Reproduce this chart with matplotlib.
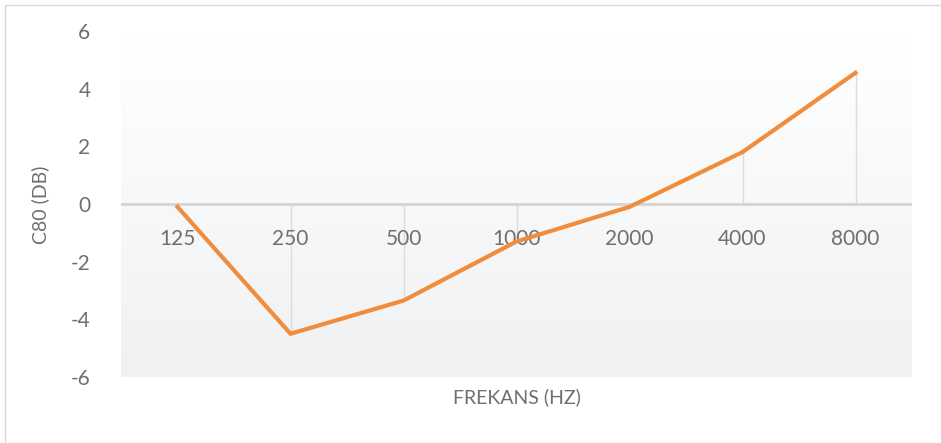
import matplotlib
matplotlib.use("Agg")
import matplotlib.pyplot as plt
import numpy as np
from matplotlib.patches import Rectangle

categories = ["125", "250", "500", "1000", "2000", "4000", "8000"]
c80_values = [-0.1, -4.5, -3.35, -1.3, -0.1, 1.8, 4.55]
y_ticks = [-6, -4, -2, 0, 2, 4, 6]

plt.rcParams['font.family'] = ['Lato', 'DejaVu Sans']

W, H = 941, 443
fig = plt.figure(figsize=(W / 100, H / 100), dpi=100)
fig.patch.set_facecolor("white")

# outer chart border
fig.add_artist(Rectangle((5 / W, -0.02), (W - 4) / W, (H - 5) / H + 0.02,
                         transform=fig.transFigure, fill=False,
                         edgecolor="#d9d9d9", linewidth=1.0))

left, right, top, bottom = 121, 912, 31, 377
ax = fig.add_axes([left / W, 1 - bottom / H, (right - left) / W, (bottom - top) / H])

x = np.arange(len(categories))
n = len(categories)

# gradient plot-area fill (white at top, light grey at bottom)
grad = np.linspace(0, 1, 256).reshape(-1, 1)
c_top = np.array([1.0, 1.0, 1.0])
c_bot = np.array([0xf0, 0xf1, 0xf3]) / 255
img = c_top + (c_bot - c_top) * grad[:, :, None]
ax.imshow(img, extent=[-0.5, n - 0.5, -6, 6], aspect="auto",
          zorder=0, origin="upper")
ax.set_xlim(-0.5, n - 0.5)
ax.set_ylim(-6, 6)

# drop lines
ax.vlines(x, 0, c80_values, colors="#dcdcdc", linewidth=1.0, zorder=1)
# horizontal axis at zero
ax.axhline(0, color="#d4d4d4", linewidth=2.0, zorder=2)

ax.plot(x, c80_values, color="#F08D3C", linewidth=3.0, zorder=4,
        solid_joinstyle="miter")

for s in ax.spines.values():
    s.set_visible(False)

ax.set_yticks(y_ticks)
ax.set_yticklabels([str(v) for v in y_ticks])
ax.tick_params(axis="y", length=0, pad=22, labelsize=15, labelcolor="#6f6f6f")
ax.set_xticks([])

for xi, lab in zip(x, categories):
    ax.text(xi, -1.2, lab, ha="center", va="center", fontsize=15,
            color="#6f6f6f", zorder=3)

fig.text(40 / W, 1 - 205 / H, "C80 (DB)", rotation=90, ha="center", va="center",
         fontsize=14, color="#6f6f6f")
fig.text(517 / W, 1 - 397 / H, "FREKANS (HZ)", ha="center", va="center",
         fontsize=14, color="#6f6f6f")

fig.savefig("out.png", dpi=100)
